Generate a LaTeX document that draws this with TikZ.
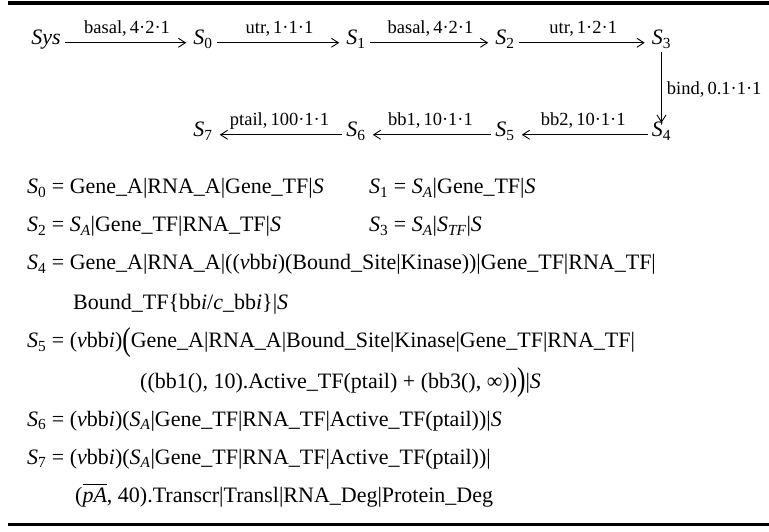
\documentclass[tikz,border=0pt]{standalone}
\usepackage{amsmath}
\usepackage{graphicx}
\usepackage{fontspec}
\setmainfont{Liberation Serif}
\usetikzlibrary{arrows.meta}
\newcommand{\Sn}[1]{$\textit{S}_{\textrm{#1}}$}
\newcommand{\Si}[1]{$\textit{S}_{\textit{#1}}$}
\newcommand{\nubbi}{(\textit{ν}bb\textit{i})}
\newcommand{\bigL}{\raisebox{-0.13em}{\scalebox{1.15}[1.5]{(}}}
\newcommand{\bigR}{\raisebox{-0.13em}{\scalebox{1.15}[1.5]{)}}}
\begin{document}
\begin{tikzpicture}[x=1pt,y=1pt,
  every node/.style={inner sep=0pt, font=\fontsize{22}{26}\selectfont},
  st/.style={text height=0.7em, text depth=0.25em, inner xsep=4pt, inner ysep=4pt, anchor=base},
  ln/.style={anchor=base west},
  lbl/.style={font=\fontsize{18.5}{22}\selectfont, anchor=base, yshift=9pt},
  vlbl/.style={font=\fontsize{18.5}{22}\selectfont, anchor=base west, xshift=5pt, yshift=-6pt},
  arr/.style={-{Straight Barb[length=7pt,width=9pt]}, line width=0.9pt, shorten >=3pt},
  rulebar/.style={line width=3.3pt}]
\useasboundingbox (0,0) rectangle (769,531);
% rules
\coordinate (t1) at (8,528);
\coordinate (t2) at (769,528);
\coordinate (b1) at (8,6.5);
\coordinate (b2) at (769,6.5);
\draw[rulebar] (t1) -- (t2);
\draw[rulebar] (b1) -- (b2);
% state row 1
\node[st] (sys) at (46,486) {\textit{Sys}};
\node[st] (s0) at (203,486) {\Sn{0}};
\node[st] (s1) at (356,486) {\Sn{1}};
\node[st] (s2) at (505,486) {\Sn{2}};
\node[st] (s3) at (661.5,486) {\Sn{3}};
% state row 2
\node[st] (s4) at (661.5,394) {\Sn{4}};
\node[st] (s5) at (505,394) {\Sn{5}};
\node[st] (s6) at (356,394) {\Sn{6}};
\node[st] (s7) at (203,394) {\Sn{7}};
% arrows
\draw[arr] (sys) -- node[lbl, midway] {basal,\,4·2·1} (s0);
\draw[arr] (s0) -- node[lbl, midway] {utr,\,1·1·1} (s1);
\draw[arr] (s1) -- node[lbl, midway] {basal,\,4·2·1} (s2);
\draw[arr] (s2) -- node[lbl, midway] {utr,\,1·2·1} (s3);
\draw[arr] (s3) -- node[vlbl, midway] {bind,\,0.1·1·1} (s4);
\draw[arr] (s4) -- node[lbl, midway] {bb2,\,10·1·1} (s5);
\draw[arr] (s5) -- node[lbl, midway] {bb1,\,10·1·1} (s6);
\draw[arr] (s6) -- node[lbl, midway] {ptail,\,100·1·1} (s7);
% definitions
\node[ln] (l0) at (27,337) {\Sn{0} = Gene\_A|RNA\_A|Gene\_TF|\textit{S}};
\node[ln] (l1) at (369,337) {\Sn{1} = \Si{A}|Gene\_TF|\textit{S}};
\node[ln] (l2) at (27,299) {\Sn{2} = \Si{A}|Gene\_TF|RNA\_TF|\textit{S}};
\node[ln] (l3) at (369,299) {\Sn{3} = \Si{A}|\Si{TF}|\textit{S}};
\node[ln] (l4) at (27,261) {\Sn{4} = Gene\_A|RNA\_A|(\nubbi(Bound\_Site|Kinase))|Gene\_TF|RNA\_TF|};
\node[ln] (l4b) at (73,222) {Bound\_TF\{bb\textit{i}/\textit{c}\_bb\textit{i}\}|\textit{S}};
\node[ln] (l5) at (27,183) {\Sn{5} = \nubbi\bigL Gene\_A|RNA\_A|Bound\_Site|Kinase|Gene\_TF|RNA\_TF|};
\node[ln] (l5b) at (140,143) {((bb1(), 10).Active\_TF(ptail) + (bb3(), ∞))\bigR|\textit{S}};
\node[ln] (l6) at (27,105) {\Sn{6} = \nubbi(\Si{A}|Gene\_TF|RNA\_TF|Active\_TF(ptail))|\textit{S}};
\node[ln] (l7) at (27,67) {\Sn{7} = \nubbi(\Si{A}|Gene\_TF|RNA\_TF|Active\_TF(ptail))|};
\node[ln] (l7b) at (75,29) {($\overline{\textit{pA}}$, 40).Transcr|Transl|RNA\_Deg|Protein\_Deg};
\end{tikzpicture}
\end{document}
